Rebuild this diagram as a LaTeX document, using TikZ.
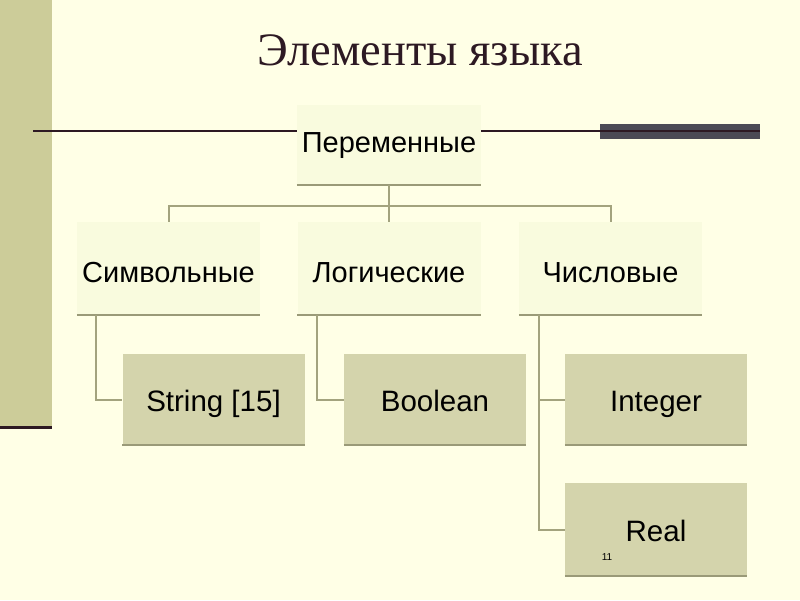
\documentclass[tikz,border=0pt]{standalone}
\usepackage{fontspec}
\setmainfont{Liberation Sans}
\newfontfamily\titlefont{Liberation Serif}
\usetikzlibrary{positioning}
\definecolor{slidebg}{RGB}{255,255,230}
\definecolor{sidebar}{RGB}{204,204,153}
\definecolor{darkline}{RGB}{45,25,35}
\definecolor{darkbar}{RGB}{75,74,85}
\definecolor{boxfill}{RGB}{212,212,172}
\definecolor{edgeline}{RGB}{154,154,120}
\definecolor{wire}{RGB}{163,163,126}
\definecolor{softfill}{RGB}{249,251,222}
\tikzset{
  head/.style={fill=softfill, minimum width=183pt, minimum height=93pt, inner sep=0pt,
    text height=33pt, text depth=6pt, font=\fontsize{29}{32}\selectfont},
  leaf/.style={fill=boxfill, minimum width=182pt, minimum height=91pt, inner sep=0pt,
    text height=29pt, text depth=6pt, font=\fontsize{29.5}{32}\selectfont},
  wires/.style={draw=wire, line width=2pt},
  baseline/.style={draw=edgeline, line width=2pt}
}
\begin{document}
\begin{tikzpicture}[x=1pt,y=-1pt]
    \useasboundingbox (0,0) rectangle (800,600);
    \fill [slidebg] (0,0) rectangle (800,600);
    \fill [sidebar] (0,0) rectangle (52,427);
    \draw [darkline, line width=3pt] (0,427) -- (52,427);
    \node [anchor=base, text=darkline, font=\titlefont\fontsize{46.5}{50}\selectfont] (title) at (420,65) {Элементы языка};
    % rule across the slide
    \draw [darkline, line width=2pt] (33,131) -- (760,131);
    \fill [darkbar] (600,124) rectangle (760,139);
    \draw [darkline, line width=1.5pt] (600,131) -- (760,131);
    % top node
    \node [head, minimum width=184pt, minimum height=80pt, text height=20pt] (var) at (389,145) {Переменные};
    \draw [baseline] (var.south west) -- (var.south east);
    % second row
    \node [head] (sym) at (168.5,268.5) {Символьные};
    \node [head] (log) at (389,268.5) {Логические};
    \node [head] (num) at (610.5,268.5) {Числовые};
    \foreach \n in {sym,log,num}
      \draw [baseline] (\n.south west) -- (\n.south east);
    \coordinate (hub) at ([yshift=-21pt]var.south);
    \draw [wires] (var.south) -- (hub);
    \draw [wires] (sym.north) |- (hub) -| (num.north);
    \draw [wires] (hub) -- (log.north);
    % third row
    \node [leaf] (str) at (213.5,399.5) {String [15]};
    \node [leaf] (bool) at (435,399.5) {Boolean};
    \node [leaf] (int) at (656,399.5) {Integer};
    \node [leaf, minimum height=93pt] (real) at (656,529.5) {Real};
    \foreach \n in {str,bool,int,real}
      \draw [baseline] (\n.south west) -- (\n.south east);
    \draw [wires] ([xshift=19pt]sym.south west) |- (str.west);
    \draw [wires] ([xshift=20pt]log.south west) |- (bool.west);
    \draw [wires] ([xshift=20pt]num.south west) |- (real.west);
    \draw [wires] (int.west) -| ([xshift=20pt]num.south west);
    \node [font=\fontsize{10}{12}\selectfont] (page) at (607,557) {11};
\end{tikzpicture}
\end{document}
